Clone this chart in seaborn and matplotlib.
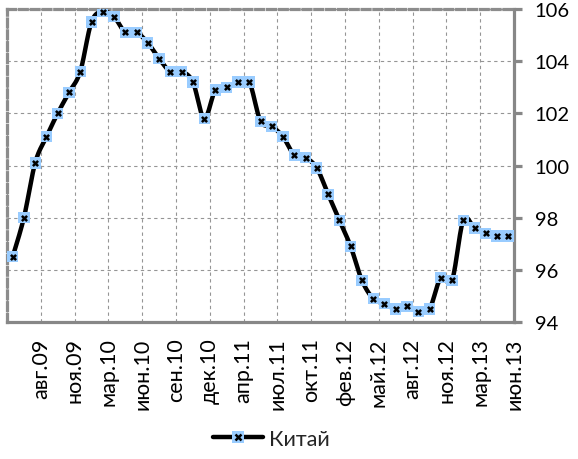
import numpy as np
import pandas as pd
import matplotlib
matplotlib.use("Agg")
import matplotlib.pyplot as plt
import seaborn as sns
from matplotlib.legend_handler import HandlerTuple
from matplotlib.lines import Line2D

# Monthly index values, China
series_name = "Китай"
values = [96.5, 98.0, 100.1, 101.1, 102.0, 102.8, 103.6, 105.5, 105.9, 105.7,
          105.1, 105.1, 104.7, 104.1, 103.6, 103.6, 103.2, 101.8, 102.9, 103.0,
          103.2, 103.2, 101.7, 101.5, 101.1, 100.4, 100.3, 99.9, 98.9, 97.9,
          96.9, 95.6, 94.9, 94.7, 94.5, 94.6, 94.4, 94.5, 95.7, 95.6,
          97.9, 97.6, 97.4, 97.3, 97.3]
tick_labels = ["авг.09", "ноя.09", "мар.10", "июн.10", "сен.10", "дек.10",
               "апр.11", "июл.11", "окт.11", "фев.12", "май.12", "авг.12",
               "ноя.12", "мар.13", "июн.13"]
y_ticks = [94, 96, 98, 100, 102, 104, 106]

df = pd.DataFrame({"idx": np.arange(len(values)), "value": values})


def smooth_curve(x, y, steps=24):
    """Bezier smoothing through every point (Catmull-Rom style)."""
    x = np.asarray(x, float)
    y = np.asarray(y, float)
    px = np.concatenate([[x[0]], x, [x[-1]]])
    py = np.concatenate([[y[0]], y, [y[-1]]])
    xs, ys = [], []
    t = np.linspace(0, 1, steps, endpoint=False)
    for i in range(1, len(px) - 2):
        p0 = np.array([px[i - 1], py[i - 1]])
        p1 = np.array([px[i], py[i]])
        p2 = np.array([px[i + 1], py[i + 1]])
        p3 = np.array([px[i + 2], py[i + 2]])
        c1 = p1 + (p2 - p0) / 6.0
        c2 = p2 - (p3 - p1) / 6.0
        b = ((1 - t) ** 3)[:, None] * p1 + (3 * (1 - t) ** 2 * t)[:, None] * c1 \
            + (3 * (1 - t) * t ** 2)[:, None] * c2 + (t ** 3)[:, None] * p2
        xs.extend(b[:, 0])
        ys.extend(b[:, 1])
    xs.append(x[-1])
    ys.append(y[-1])
    return np.array(xs), np.array(ys)


sns.set_style("white")
plt.rcParams["font.family"] = ["Lato", "DejaVu Sans"]

fig = plt.figure(figsize=(5.78, 4.60), dpi=100)
ax = fig.add_axes([7 / 578, 1 - 323 / 460, (514 - 7) / 578, (323 - 10) / 460])

sx, sy = smooth_curve(df["idx"], df["value"])
sns.lineplot(x=sx, y=sy, sort=False, estimator=None, color="black",
             linewidth=3.2, ax=ax, zorder=3)
sns.scatterplot(data=df, x="idx", y="value", marker="s", s=66,
                color="#99CCFF", edgecolor="none", linewidth=0, ax=ax,
                zorder=4, legend=False)
sns.scatterplot(data=df, x="idx", y="value", marker="x", s=14,
                color="black", linewidth=1.8, ax=ax, zorder=5, legend=False)

ax.set_xlim(-0.5, len(values) - 0.5)
ax.set_ylim(94, 106)
ax.set_xlabel("")
ax.set_ylabel("")

xt = [-0.5 + 3 * k for k in range(len(tick_labels) + 1)]
ax.set_xticks(xt)
ax.set_xticklabels([""] + tick_labels, rotation=90, fontsize=15.5)
ax.set_yticks(y_ticks)
ax.set_yticklabels([str(v) for v in y_ticks], fontsize=14.5)
ax.yaxis.tick_right()

axis_gray = "#878787"
grid_gray = "#959595"
ax.grid(True, color=grid_gray, linewidth=0.8, linestyle=(0, (3, 3)))
ax.set_axisbelow(True)

for side in ("right", "bottom"):
    ax.spines[side].set_color(axis_gray)
    ax.spines[side].set_linewidth(2.3)
for side in ("top", "left"):
    ax.spines[side].set_visible(True)
    ax.spines[side].set_color("#8c8c8c")
    ax.spines[side].set_linewidth(2.3)
    ax.spines[side].set_linestyle((0, (2.5, 1.2)))

ax.tick_params(axis="x", direction="out", length=7, width=2.3,
               color=axis_gray, pad=4, labelcolor="black")
ax.tick_params(axis="y", direction="out", length=6, width=2.3,
               color=axis_gray, pad=9, labelcolor="black",
               right=True, left=False)

handle = (Line2D([], [], color="black", linewidth=3.2),
          Line2D([], [], marker="s", markersize=8, color="#99CCFF",
                 linestyle="none", markeredgewidth=0),
          Line2D([], [], marker="x", markersize=4, color="black",
                 linestyle="none", markeredgewidth=1.8))
fig.legend([handle], [series_name], loc="center",
           bbox_to_anchor=(0.47, 1 - 440 / 460), frameon=False,
           fontsize=15.5, handlelength=2.3, handletextpad=0.3,
           handler_map={tuple: HandlerTuple(ndivide=1)})

fig.savefig("out.png", dpi=100)
